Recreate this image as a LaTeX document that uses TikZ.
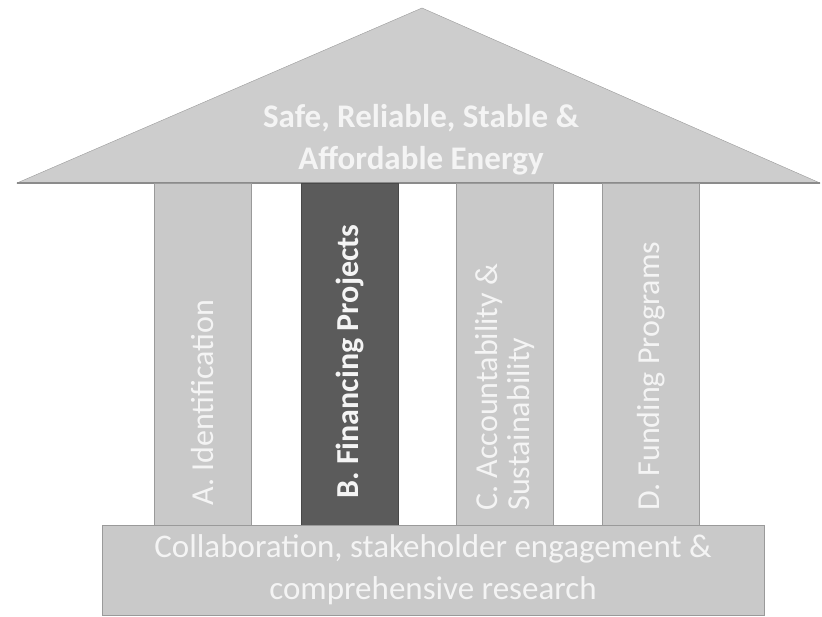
\documentclass[tikz,border=0pt]{standalone}
\usepackage{fontspec}
\setmainfont{Carlito}
\usepackage{tikz}
\usetikzlibrary{positioning}

\definecolor{roofgray}{HTML}{CDCDCD}
\definecolor{pillargray}{HTML}{C9C9C9}
\definecolor{darkpillar}{HTML}{5B5B5B}
\definecolor{edgegray}{HTML}{9A9A9A}
\definecolor{textwhite}{HTML}{F4F4F4}

\begin{document}
\begin{tikzpicture}[x=1pt, y=-1pt,
			pillar/.style={draw=edgegray, fill=pillargray, rectangle, minimum width=97pt, minimum height=342pt, inner sep=0pt},
			keypillar/.style={pillar, fill=darkpillar, draw=darkpillar!80!black},
			pillartext/.style={rotate=90, anchor=west, text=textwhite, font=\fontsize{32}{32}\selectfont, align=left, inner sep=0pt},
			base/.style={draw=edgegray, fill=pillargray, rectangle, minimum width=662pt, minimum height=90pt, inner sep=0pt}]
			
			\useasboundingbox (0,0) rectangle (822,617);
			
			% Drawing the roof
			\draw[draw=edgegray, fill=roofgray] (17,183) -- (422,8) -- (820,183) -- cycle;
			\draw[edgegray!90!black, line width=1.2pt] (17,183) -- (820,183);
			\node[text=textwhite, font=\fontsize{33}{42}\selectfont\bfseries, align=center] (roof) at (421,140)
				{Safe, Reliable, Stable \&\\Affordable Energy};
			
			% Drawing the pillars
			\node[pillar] (colA) at (202.5,354.5) {};
			\node[keypillar] (colB) at (349.5,354.5) {};
			\node[pillar] (colC) at (504.5,354.5) {};
			\node[pillar] (colD) at (651,354.5) {};
			
			% Pillar labels
			\node[pillartext] (labA) at ([yshift=20pt]colA.south) {A. Identification};
			\node[pillartext, font=\fontsize{32}{32}\selectfont\bfseries] (labB) at ([yshift=27pt]colB.south) {B. Financing Projects};
			\node[pillartext] (labC) at ([yshift=15pt]colC.south) {C. Accountability \&\\Sustainability};
			\node[pillartext] (labD) at ([yshift=15pt]colD.south) {D. Funding Programs};
			
			% Drawing the base
			\node[base, text=textwhite, font=\fontsize{33}{42}\selectfont, align=center] (base) at (433,570)
				{Collaboration, stakeholder engagement \&\\comprehensive research};
		\end{tikzpicture}
\end{document}
